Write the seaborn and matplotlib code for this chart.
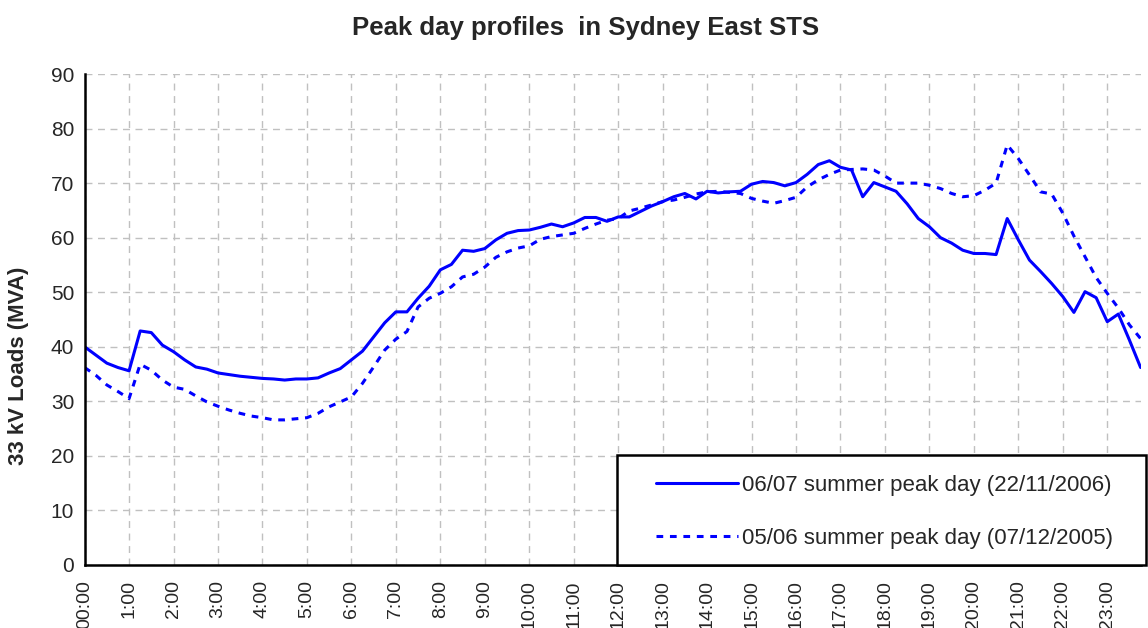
import numpy as np
import pandas as pd
import matplotlib
matplotlib.use('Agg')
import matplotlib.pyplot as plt
from matplotlib.patches import Rectangle
import seaborn as sns

# 15-minute readings, 00:00 .. 23:45
peak_0607 = [40.0, 38.5, 37.0, 36.2, 35.6, 42.9, 42.6, 40.3, 39.1, 37.6, 36.3, 35.9,
             35.2, 34.9, 34.6, 34.4, 34.2, 34.1, 33.9, 34.1, 34.1, 34.3, 35.2, 36.0,
             37.6, 39.2, 41.8, 44.4, 46.4, 46.4, 48.9, 51.1, 54.1, 55.1, 57.7, 57.5,
             58.0, 59.6, 60.8, 61.3, 61.4, 61.9, 62.5, 62.0, 62.7, 63.7, 63.7, 63.0,
             63.8, 63.8, 64.8, 65.8, 66.6, 67.5, 68.1, 67.1, 68.5, 68.2, 68.4, 68.5,
             69.8, 70.3, 70.1, 69.5, 70.1, 71.6, 73.4, 74.1, 72.9, 72.4, 67.5, 70.1,
             69.3, 68.5, 66.2, 63.5, 62.0, 60.0, 59.0, 57.7, 57.1, 57.1, 56.9, 63.5,
             59.6, 55.9, 53.8, 51.6, 49.2, 46.3, 50.1, 49.0, 44.6, 46.0, 41.2, 36.2]
peak_0506 = [36.2, 34.8, 33.0, 31.8, 30.5, 36.8, 35.7, 33.9, 32.6, 32.2, 31.0, 29.9,
             29.1, 28.4, 27.8, 27.3, 27.0, 26.6, 26.6, 26.8, 27.0, 27.8, 29.0, 29.9,
             30.8, 33.3, 36.3, 39.4, 41.4, 42.8, 47.3, 48.9, 49.8, 51.0, 52.8, 53.3,
             54.6, 56.4, 57.4, 58.1, 58.5, 59.7, 60.2, 60.5, 60.8, 61.7, 62.5, 63.2,
             63.5, 64.9, 65.4, 66.0, 66.6, 66.9, 67.4, 68.0, 68.4, 68.5, 68.3, 68.1,
             67.2, 66.7, 66.3, 66.8, 67.4, 69.3, 70.6, 71.6, 72.4, 72.5, 72.6, 72.4,
             71.3, 70.0, 70.0, 70.0, 69.6, 69.0, 68.1, 67.5, 67.7, 68.7, 70.0, 77.0,
             74.5, 71.5, 68.4, 68.0, 64.5, 60.3, 56.5, 52.7, 49.8, 47.1, 44.0, 41.5]
series_names = ['06/07 summer peak day (22/11/2006)', '05/06 summer peak day (07/12/2005)']
hour_labels = ['00:00'] + ['%d:00' % h for h in range(1, 24)]

slots = np.arange(len(peak_0607))
df = pd.DataFrame({
    'slot': np.concatenate([slots, slots]),
    'load': peak_0607 + peak_0506,
    'series': [series_names[0]] * len(slots) + [series_names[1]] * len(slots),
})

sns.set_style('white')
plt.rcParams['font.family'] = ['Liberation Sans', 'DejaVu Sans']

W, H = 1148, 628
fig = plt.figure(figsize=(W / 100, H / 100), dpi=100)
ax = fig.add_axes([84.6 / W, 63 / H, 1056 / W, 491 / H])

sns.lineplot(data=df, x='slot', y='load', hue='series', style='series',
             palette=['#0000ff', '#0000ff'], dashes=['', (2.2, 2.2)],
             linewidth=2.2, ax=ax)

ax.set_xlim(0, 95)
ax.set_ylim(0, 90)
ax.set_yticks(range(0, 91, 10))
ax.set_xticks(range(0, 96, 4))
ax.set_xticklabels(hour_labels, rotation=90, fontsize=14)
ax.tick_params(axis='y', labelsize=15, direction='inout', length=13, width=1.6, pad=1)
ax.tick_params(axis='x', direction='out', length=7, width=1.6, pad=4)

ax.grid(True, color='#c0c0c0', linestyle=(0, (5, 4)), linewidth=1)
for side in ['top', 'right']:
    ax.spines[side].set_visible(False)
for side in ['left', 'bottom']:
    ax.spines[side].set_color('black')
    ax.spines[side].set_linewidth(1.8)

ax.set_xlabel('')
ax.set_ylabel('33 kV Loads (MVA)', fontsize=16, fontweight='bold')
ax.yaxis.set_label_coords(-0.053, 0.405)
fig.text(585.5 / W, 1 - 28 / H, 'Peak day profiles  in Sydney East STS',
         fontsize=18.5, fontweight='bold', ha='center', va='center')

# legend box drawn as a plain rectangle, entries placed inside it
ax.add_patch(Rectangle((617 / W, 63 / H), 529 / W, 110 / H,
                       transform=fig.transFigure, facecolor='white',
                       edgecolor='black', linewidth=1.8, zorder=5, clip_on=False))
leg = ax.legend(loc='upper left', bbox_to_anchor=(656 / W, 1 - 475 / H),
                bbox_transform=fig.transFigure, borderaxespad=0, borderpad=0,
                fontsize=16, frameon=False, handlelength=3.7, handletextpad=0.15,
                labelspacing=1.45)
leg.set_zorder(6)

fig.savefig('out.png', dpi=100)
